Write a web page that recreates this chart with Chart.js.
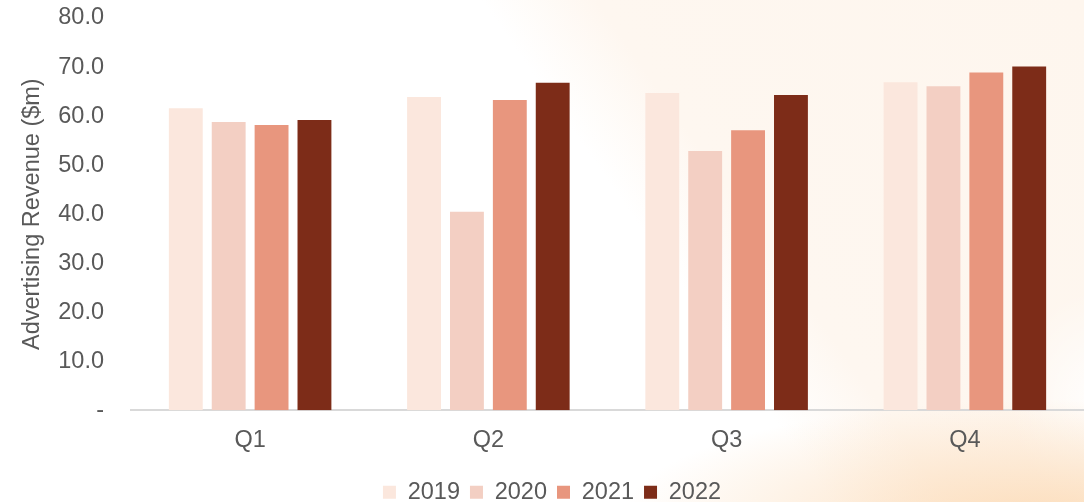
<!DOCTYPE html>
<html>
<head>
<meta charset="utf-8">
<title>Advertising Revenue by Quarter</title>
<script src="https://cdn.jsdelivr.net/npm/chart.js"></script>
<style>
    html, body {
        margin: 0;
        padding: 0;
    }
    body {
        width: 1084px;
        height: 502px;
        overflow: hidden;
        /* warm wash behind the right half of the chart */
        background:
            radial-gradient(ellipse 420px 120px at 1040px 520px, rgba(252, 220, 185, 0.95), rgba(252, 220, 185, 0) 100%),
            radial-gradient(ellipse 90px 110px at 1100px 400px, rgba(255, 255, 255, 0.9), rgba(255, 255, 255, 0) 100%),
            linear-gradient(55deg, #FFFFFF 58%, #FEF7F0 66%, #FEF6EE 100%);
    }
    .chart-wrap {
        position: relative;
        width: 1084px;
        height: 502px;
    }
</style>
</head>
<body>
<div class="chart-wrap">
    <canvas id="chartRevenue"></canvas>
</div>
<script>
// Quarterly advertising revenue ($m), one series per year
const quarters = ['Q1', 'Q2', 'Q3', 'Q4'];
const years = ['2019', '2020', '2021', '2022'];
const revenue2019 = [61.6, 63.9, 64.7, 66.9];
const revenue2020 = [58.8, 40.5, 52.9, 66.1];
const revenue2021 = [58.2, 63.3, 57.1, 68.9];
const revenue2022 = [59.2, 66.8, 64.3, 70.1];
const yTicks = [0, 10, 20, 30, 40, 50, 60, 70, 80];

const yearColors = ['#FBE7DD', '#F3CFC3', '#E8967E', '#7D2C18'];
const textColor = '#595959';
const fontFamily = "'Liberation Sans', Arial, sans-serif";
const fontSize = 23.5;

// Pulls the bottom legend closer to the canvas edge
const legendNudge = {
    id: 'legendNudge',
    beforeLayout(chart) {
        const legend = chart.legend;
        if (!legend || legend._nudged) return;
        const origFit = legend.fit;
        legend.fit = function () {
            origFit.call(this);
            this.height -= 12;
        };
        legend._nudged = true;
    }
};

class RevenueChart {
    constructor(canvasId) {
        this.ctx = document.getElementById(canvasId);
        this.chart = null;
        this.init();
    }

    init() {
        const series = [revenue2019, revenue2020, revenue2021, revenue2022];

        const data = {
            labels: quarters,
            datasets: series.map((values, i) => ({
                label: years[i],
                data: values,
                backgroundColor: yearColors[i],
                borderWidth: 0,
                barPercentage: 0.79,
                categoryPercentage: 0.72
            }))
        };

        this.chart = new Chart(this.ctx, {
            type: 'bar',
            data: data,
            plugins: [legendNudge],
            options: {
                responsive: true,
                maintainAspectRatio: false,
                animation: false,
                layout: {
                    padding: { top: 18, right: 0, bottom: 0, left: 20 }
                },
                plugins: {
                    tooltip: { enabled: false },
                    legend: {
                        position: 'bottom',
                        labels: {
                            boxWidth: 13,
                            boxHeight: 13,
                            padding: 10,
                            color: textColor,
                            font: { family: fontFamily, size: fontSize }
                        }
                    }
                },
                scales: {
                    x: {
                        grid: { display: false, drawTicks: false },
                        border: { display: true, color: '#D9D9D9', width: 2 },
                        ticks: {
                            color: textColor,
                            padding: 16,
                            font: { family: fontFamily, size: fontSize }
                        }
                    },
                    y: {
                        min: 0,
                        max: 80,
                        afterBuildTicks: (scale) => {
                            scale.ticks = yTicks.map(v => ({ value: v }));
                        },
                        afterFit: (scale) => {
                            scale.width = 111;
                            scale.paddingTop = 0;
                            scale.paddingBottom = 0;
                        },
                        grid: { display: false, drawTicks: false },
                        border: { display: false },
                        ticks: {
                            color: textColor,
                            padding: 27,
                            font: { family: fontFamily, size: fontSize },
                            // zero is shown as a dash
                            callback: (value) => value === 0 ? '-' : value.toFixed(1)
                        },
                        title: {
                            display: true,
                            text: 'Advertising Revenue ($m)',
                            color: textColor,
                            padding: { top: -2, bottom: 0 },
                            font: { family: fontFamily, size: fontSize }
                        }
                    }
                }
            }
        });
    }
}

document.addEventListener('DOMContentLoaded', () => {
    window.revenueChart = new RevenueChart('chartRevenue');
});
</script>
</body>
</html>
